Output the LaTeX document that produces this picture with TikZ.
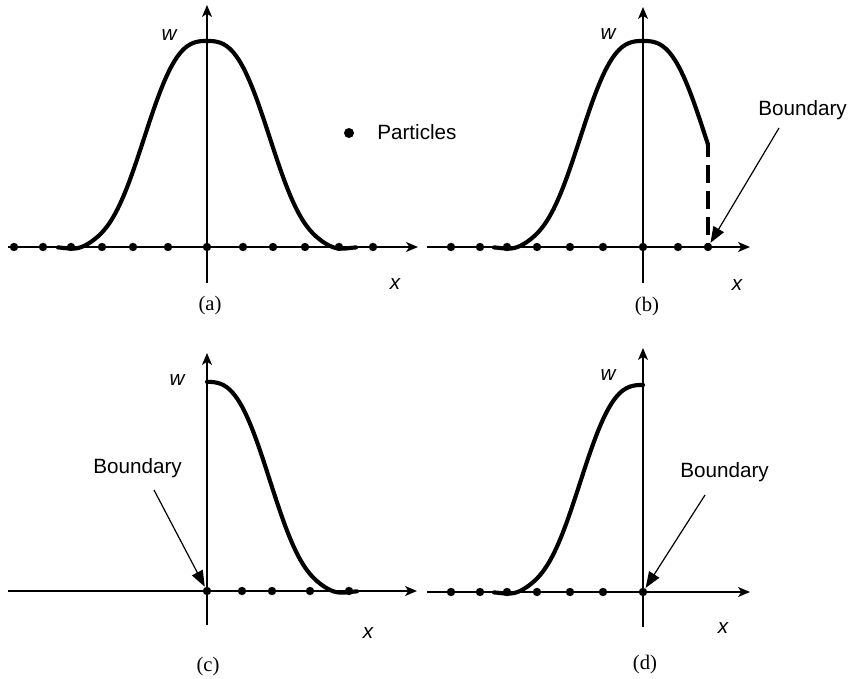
\documentclass[tikz,border=0pt]{standalone}
\usepackage{fontspec}
\setmainfont{Liberation Serif}
\setsansfont{Liberation Sans}
\usetikzlibrary{arrows.meta}
\tikzset{
  declare function={kern(\r)=206*exp(-((abs(\r)+0.01)/74)^2.77)-3*exp(-((abs(\r)-130)/15)^2);},
  axis/.style={line width=1.05pt,-{Stealth[length=9pt,width=7.5pt,inset=2.5pt]}},
  kernel/.style={line width=3.1pt,line cap=round,line join=round},
  dot/.style={circle,fill=black,inner sep=0pt,minimum size=6.3pt},
  bigdot/.style={circle,fill=black,inner sep=0pt,minimum size=7.5pt},
  barrow/.style={line width=0.9pt,-{Triangle[length=12pt,width=9pt]},shorten >=0.3pt},
  lab/.style={font=\sffamily\itshape\fontsize{15.5}{18}\selectfont,inner sep=0pt},
  txt/.style={font=\sffamily\fontsize{15.5}{18}\selectfont,inner sep=0pt,anchor=base west},
  captxt/.style={font=\rmfamily\fontsize{15.5}{18}\selectfont,inner sep=0pt},
  bdash/.style={line width=3.1pt,dash pattern=on 13.5pt off 6pt,dash phase=4.5pt}
}
\begin{document}
\begin{tikzpicture}[x=0.75pt,y=-0.75pt]
\useasboundingbox (0,0) rectangle (852,678);

% ---------- panel (a) ----------
\begin{scope}[shift={(207,247)}]
  \coordinate (axL) at (-199,0); \coordinate (axR) at (211,0);
  \coordinate (ayB) at (0,36);   \coordinate (ayT) at (0,-242);
  \draw[axis] (axL) -- (axR);
  \draw[axis] (ayB) -- (ayT);
  \draw[kernel] plot[smooth,domain=-149:149,samples=91] (\x,{-kern(\x)});
  \foreach \d [count=\i] in {-193,-164,-136,-105,-74,-39,0,36,66,98,132,166}
    \node[dot] (a\i) at (\d,0) {};
  \node[lab] (wa) at (-38,-212) {w};
  \node[lab] (xa) at (188,37) {x};
  \node[captxt] (capa) at (3,59) {(a)};
\end{scope}
\node[bigdot] (legdot) at (349,133) {};
\node[txt] (legtxt) at (377,139) {Particles};

% ---------- panel (b) ----------
\begin{scope}[shift={(643,247)}]
  \coordinate (bxL) at (-216,0); \coordinate (bxR) at (107,0);
  \coordinate (byB) at (0,36);   \coordinate (byT) at (0,-240);
  \draw[axis] (bxL) -- (bxR);
  \draw[axis] (byB) -- (byT);
  \draw[kernel] plot[smooth,domain=-149:65,samples=66] (\x,{-kern(\x)});
  \coordinate (bend) at (65,{-kern(65)});
  \coordinate (bfoot) at (65,0);
  \draw[bdash] (bend) -- (bfoot);
  \foreach \d [count=\i] in {-192,-163,-136,-106,-73,-40,0,35}
    \node[dot] (b\i) at (\d,0) {};
  \node[dot] (bbnd) at (65,0) {};
  \node[lab] (wb) at (-35,-213) {w};
  \node[lab] (xb) at (94,38) {x};
  \node[captxt] (capb) at (4,60) {(b)};
\end{scope}
\node[txt] (bndb) at (758,115) {Boundary};
\coordinate (sb) at (779,128);
\draw[barrow] (sb) -- (bbnd);

% ---------- panel (c) ----------
\begin{scope}[shift={(207,591)}]
  \coordinate (cxL) at (-199,0); \coordinate (cxR) at (210,0);
  \coordinate (cyB) at (0,34);   \coordinate (cyT) at (0,-238);
  \draw[axis] (cxL) -- (cxR);
  \draw[axis] (cyB) -- (cyT);
  \draw[kernel] plot[smooth,domain=0:150,samples=46] (\x,{-1.015*kern(\x)});
  \node[dot] (cbnd) at (0,0) {};
  \foreach \d [count=\i] in {35,65,103,142}
    \node[dot] (c\i) at (\d,0) {};
  \node[lab] (wc) at (-30,-211) {w};
  \node[lab] (xc) at (161,42) {x};
  \node[captxt] (capc) at (1,76) {(c)};
\end{scope}
\node[txt] (bndc) at (93,473) {Boundary};
\coordinate (sc) at (154,490);
\draw[barrow] (sc) -- (cbnd);

% ---------- panel (d) ----------
\begin{scope}[shift={(643,592)}]
  \coordinate (dxL) at (-216,0); \coordinate (dxR) at (107,0);
  \coordinate (dyB) at (0,35);   \coordinate (dyT) at (0,-244);
  \draw[axis] (dxL) -- (dxR);
  \draw[axis] (dyB) -- (dyT);
  \draw[kernel] plot[smooth,domain=-149:0,samples=46] (\x,{-1.005*kern(\x)});
  \foreach \d [count=\i] in {-192,-163,-136,-106,-73,-40}
    \node[dot] (d\i) at (\d,0) {};
  \node[dot] (dbnd) at (0,0) {};
  \node[lab] (wd) at (-35,-217) {w};
  \node[lab] (xd) at (80,36) {x};
  \node[captxt] (capd) at (2,73) {(d)};
\end{scope}
\node[txt] (bndd) at (680,477) {Boundary};
\coordinate (sd) at (705,495);
\draw[barrow] (sd) -- (dbnd);
\end{tikzpicture}
\end{document}
